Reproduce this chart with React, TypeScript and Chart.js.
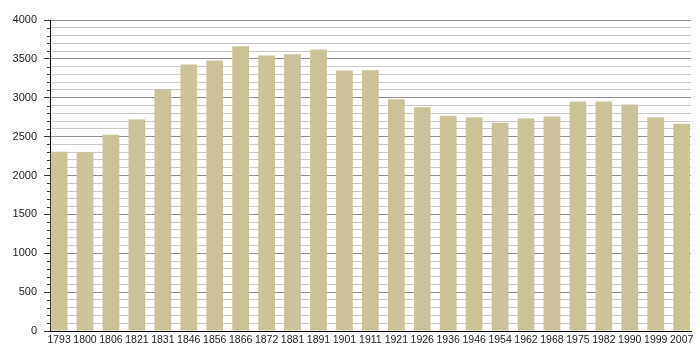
import React, { useEffect, useRef } from "react";
import { Chart, registerables } from "chart.js";

Chart.register(...registerables);

const years: string[] = [
  "1793", "1800", "1806", "1821", "1831", "1846", "1856", "1866", "1872", "1881",
  "1891", "1901", "1911", "1921", "1926", "1936", "1946", "1954", "1962", "1968",
  "1975", "1982", "1990", "1999", "2007",
];

const population: number[] = [
  2304, 2302, 2525, 2719, 3106, 3428, 3480, 3661, 3545, 3558,
  3622, 3351, 3355, 2981, 2877, 2770, 2745, 2680, 2732, 2758,
  2951, 2951, 2913, 2745, 2667,
];

const yTicksMajor = 500;
const yTicksMinor = 100;
const yMax = 4000;

const FONT = "'Liberation Sans', Arial, Helvetica, sans-serif";

const minorTicksPlugin = {
  id: "minorTicks",
  afterDraw(chart: any) {
    const y = chart.scales.y;
    const ctx = chart.ctx;
    const left = chart.chartArea.left;
    ctx.save();
    ctx.strokeStyle = "#333";
    ctx.lineWidth = 1;
    for (const t of y.ticks) {
      if (t.value % yTicksMajor === 0) continue;
      const py = Math.round(y.getPixelForValue(t.value)) + 0.5;
      ctx.beginPath();
      ctx.moveTo(left - 3, py);
      ctx.lineTo(left, py);
      ctx.stroke();
    }
    ctx.restore();
  },
};

export default function App() {
  const ref = useRef<HTMLCanvasElement | null>(null);

  useEffect(() => {
    if (!ref.current) return;
    const data = years.map((_, i) => ({ x: i, y: population[i] }));
    const chart = new Chart(ref.current, {
      type: "bar",
      data: {
        datasets: [
          {
            data: data as any,
            backgroundColor: "rgb(204,194,153)",
            borderWidth: 0,
            barPercentage: 0.645,
            categoryPercentage: 1,
          },
        ],
      },
      options: {
        animation: false,
        responsive: false,
        maintainAspectRatio: false,
        layout: { padding: { top: 20, right: 9, bottom: 0, left: 0 } },
        plugins: {
          legend: { display: false },
          tooltip: { enabled: false },
        },
        scales: {
          x: {
            type: "linear",
            offset: false,
            min: -0.35,
            max: 24.36,
            afterBuildTicks: (scale: any) => {
              scale.ticks = years.map((_, i) => ({ value: i }));
            },
            afterFit: (scale: any) => {
              scale.height = 29;
            },
            grid: { display: false, drawTicks: false, offset: false },
            border: { display: true, color: "#000", width: 1 },
            ticks: {
              autoSkip: false,
              maxRotation: 0,
              minRotation: 0,
              padding: 3,
              color: "#222",
              font: { family: FONT, size: 10.5 },
              callback: (v: any) => years[v as number] ?? "",
            },
          },
          y: {
            min: 0,
            max: yMax,
            afterFit: (scale: any) => {
              scale.width = 50;
            },
            grid: {
              color: (c: any) =>
                c.tick && c.tick.value % yTicksMajor === 0 ? "#8f8f8f" : "#c9c9c9",
              tickColor: (c: any) =>
                c.tick && c.tick.value % yTicksMajor === 0 ? "#333" : "rgba(0,0,0,0)",
              tickLength: 6,
              drawTicks: true,
            },
            border: { display: true, color: "#000", width: 1 },
            ticks: {
              stepSize: yTicksMinor,
              autoSkip: false,
              padding: 7,
              color: "#222",
              font: { family: FONT, size: 11 },
              callback: (v: any) => ((v as number) % yTicksMajor === 0 ? String(v) : ""),
            },
          },
        },
      },
      plugins: [minorTicksPlugin],
    });
    return () => chart.destroy();
  }, []);

  return (
    <div style={{ position: "absolute", left: 0, top: 0, width: 700, height: 360, background: "#fff" }}>
      <canvas ref={ref} width={700} height={360} style={{ display: "block" }} />
    </div>
  );
}
